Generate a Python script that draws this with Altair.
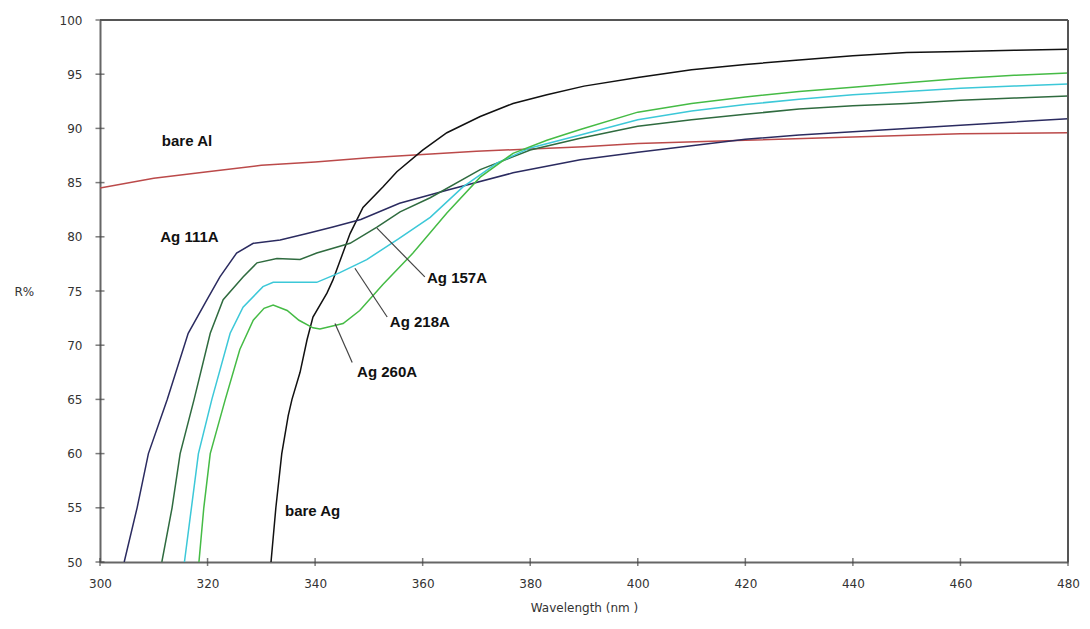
import altair as alt
import pandas as pd

# ---- data ----
al_wl = [300, 310, 320, 330, 340, 350, 360, 370, 380, 390, 400, 420, 440, 460, 480]
al_r = [84.5, 85.4, 86.0, 86.6, 86.9, 87.3, 87.6, 87.9, 88.1, 88.3, 88.6, 88.9, 89.2, 89.5, 89.6]

ag_wl = [331.8, 332.7, 333.8, 335.0, 335.7, 337.2, 338.5, 339.6, 342.2, 343.3, 346.5, 348.9,
         352.6, 355.2, 360, 364.5, 370.7, 376.8, 383.1, 390, 400, 410, 420, 430, 440, 450,
         460, 470, 480]
ag_r = [50, 55, 60, 63.5, 65, 67.5, 70.5, 72.6, 74.8, 76, 80.3, 82.7, 84.6, 86, 88, 89.6, 91.1,
        92.3, 93.1, 93.9, 94.7, 95.4, 95.9, 96.3, 96.7, 97.0, 97.1, 97.2, 97.3]

a111_wl = [304.5, 306.9, 309, 312.5, 316.4, 319.9, 322.3, 325.4, 328.5, 333.5, 338.5, 343.3,
           348.5, 355.7, 364.5, 376.8, 389.3, 400, 410, 420, 430, 440, 450, 460, 470, 480]
a111_r = [50, 55, 60, 65, 71.1, 74.2, 76.3, 78.5, 79.4, 79.7, 80.3, 80.9, 81.6, 83.1, 84.3,
          85.9, 87.1, 87.8, 88.4, 89.0, 89.4, 89.7, 90.0, 90.3, 90.6, 90.9]

a157_wl = [311.5, 313.4, 314.9, 317.5, 320.5, 322.9, 326.6, 329.2, 332.9, 337.2, 340.3, 346.5,
           351.5, 355.8, 361.4, 370.7, 380, 389.3, 400, 410, 420, 430, 440, 450, 460, 470, 480]
a157_r = [50, 55, 60, 65, 71.1, 74.2, 76.3, 77.6, 78.0, 77.9, 78.5, 79.4, 80.9, 82.3, 83.6,
          86.2, 88.0, 89.1, 90.2, 90.8, 91.3, 91.8, 92.1, 92.3, 92.6, 92.8, 93.0]

a218_wl = [315.7, 317, 318.3, 320.8, 324.2, 326.6, 330.3, 332.2, 336, 340.3, 344.6, 349.6,
           355.5, 361.4, 367.5, 373.8, 380, 389.3, 400, 410, 420, 430, 440, 450, 460, 470, 480]
a218_r = [50, 55, 60, 65, 71.1, 73.5, 75.4, 75.8, 75.8, 75.8, 76.7, 77.9, 79.8, 81.8, 84.6,
          86.8, 88.2, 89.4, 90.8, 91.6, 92.2, 92.7, 93.1, 93.4, 93.7, 93.9, 94.1]

a260_wl = [318.4, 319.3, 320.5, 323.3, 326, 328.5, 330.5, 332.2, 334.8, 337, 339.6, 340.9,
           345.2, 348.3, 352.6, 358.2, 364.5, 370.7, 376.8, 383.1, 389.3, 400, 410, 420, 430,
           440, 450, 460, 470, 480]
a260_r = [50, 55, 60, 65, 69.6, 72.3, 73.4, 73.7, 73.2, 72.3, 71.6, 71.5, 72.0, 73.2, 75.6,
          78.5, 82.2, 85.5, 87.7, 88.9, 89.9, 91.5, 92.3, 92.9, 93.4, 93.8, 94.2, 94.6, 94.9, 95.1]

series_names = ["bare Al", "bare Ag", "Ag 111A", "Ag 157A", "Ag 218A", "Ag 260A"]
series_colors = ["#bb4a4a", "#111111", "#2b2b60", "#2f6b3f", "#3cc8d8", "#45bb45"]

# annotations
label_text = ["bare Al", "Ag 111A", "Ag 157A", "Ag 218A", "Ag 260A", "bare Ag"]
label_wl = [311.5, 311.2, 360.8, 353.9, 347.8, 334.4]
label_r = [88.8, 80.0, 76.2, 72.1, 67.5, 54.7]

# leader lines
lead_wl1 = [351.5, 347.4, 343.7]
lead_r1 = [80.8, 77.1, 72.0]
lead_wl2 = [360.4, 353.4, 346.9]
lead_r2 = [76.3, 72.6, 68.4]

x_ticks = [300, 320, 340, 360, 380, 400, 420, 440, 460, 480]
y_ticks = [50, 55, 60, 65, 70, 75, 80, 85, 90, 95, 100]
x_max = [480]
y_max = [100]

# ---- tables ----
rows = []
for name, wl, r in zip(series_names,
                       [al_wl, ag_wl, a111_wl, a157_wl, a218_wl, a260_wl],
                       [al_r, ag_r, a111_r, a157_r, a218_r, a260_r]):
    for w, v in zip(wl, r):
        rows.append({"series": name, "wl": w, "r": v})
df = pd.DataFrame(rows)

labels_df = pd.DataFrame({"text": label_text, "wl": label_wl, "r": label_r})
lead_df = pd.DataFrame({"wl": lead_wl1, "r": lead_r1, "wl2": lead_wl2, "r2": lead_r2})
xt_df = pd.DataFrame({"wl": x_ticks, "r": [50] * len(x_ticks)})
yt_df = pd.DataFrame({"r": y_ticks, "wl": [300] * len(y_ticks)})

xscale = alt.Scale(domain=[300, 480], nice=False, zero=False)
yscale = alt.Scale(domain=[50, 100], nice=False, zero=False)

xaxis = alt.Axis(values=x_ticks, ticks=False, grid=False, domainColor="#666",
                 domainWidth=2, labelFont="DejaVu Sans", labelFontSize=12,
                 labelColor="#333", labelPadding=16, title="Wavelength (nm )",
                 titleFont="DejaVu Sans", titleFontSize=12, titleFontWeight="normal",
                 titleColor="#333", titlePadding=13, labelFlush=False)
yaxis = alt.Axis(values=y_ticks, ticks=False, grid=False, domainColor="#666",
                 domainWidth=2, labelFont="DejaVu Sans", labelFontSize=12,
                 labelColor="#333", labelPadding=18, title="R%", titleAngle=0,
                 titleX=-86, titleY=271, titleAlign="left", titleBaseline="middle",
                 titleFont="DejaVu Sans", titleFontSize=12, titleFontWeight="normal",
                 titleColor="#333", labelFlush=False)

lines = alt.Chart(df).mark_line(strokeWidth=1.5, clip=True).encode(
    x=alt.X("wl:Q", scale=xscale, axis=xaxis),
    y=alt.Y("r:Q", scale=yscale, axis=yaxis),
    color=alt.Color("series:N", scale=alt.Scale(domain=series_names, range=series_colors),
                    legend=None),
    detail="series:N",
)

leads = alt.Chart(lead_df).mark_rule(color="#444", strokeWidth=1.2).encode(
    x=alt.X("wl:Q", scale=xscale), y=alt.Y("r:Q", scale=yscale),
    x2="wl2:Q", y2="r2:Q",
)

texts = alt.Chart(labels_df).mark_text(
    align="left", baseline="middle", font="Liberation Sans", fontSize=15,
    fontWeight="bold", color="#111",
).encode(
    x=alt.X("wl:Q", scale=xscale), y=alt.Y("r:Q", scale=yscale), text="text:N",
)

xt = alt.Chart(xt_df).mark_tick(orient="vertical", size=8, thickness=1.5, color="#444").encode(
    x=alt.X("wl:Q", scale=xscale), y=alt.Y("r:Q", scale=yscale),
)
yt = alt.Chart(yt_df).mark_tick(orient="horizontal", size=9, thickness=1.5, color="#444").encode(
    x=alt.X("wl:Q", scale=xscale), y=alt.Y("r:Q", scale=yscale),
)

top_border = alt.Chart(pd.DataFrame({"r": y_max})).mark_rule(
    color="#555", strokeWidth=2).encode(y=alt.Y("r:Q", scale=yscale))
right_border = alt.Chart(pd.DataFrame({"wl": x_max})).mark_rule(
    color="#555", strokeWidth=2).encode(x=alt.X("wl:Q", scale=xscale))

chart = alt.layer(lines, leads, texts, xt, yt, top_border, right_border).properties(
    width=968, height=542,
    autosize=alt.AutoSizeParams(type="none"),
    padding={"left": 92, "top": 12, "right": 14, "bottom": 54},
).configure_view(stroke="#555", strokeWidth=1.5).configure(background="white")

chart.save("out.html", embed_options={"renderer": "svg", "actions": False})
